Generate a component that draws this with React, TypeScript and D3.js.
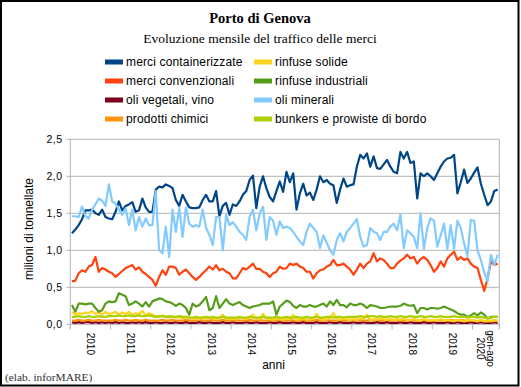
import React from "react";
import * as d3 from "d3";

const W = 521;
const H = 387;

const yearLabels = ["2010","2011","2012","2013","2014","2015","2016","2017","2018","2019"];
const lastLabelLines = ["gen-ago", "2020"];
const yTicks = [0, 0.5, 1.0, 1.5, 2.0, 2.5];

const merciContainerizzate = [
1.23,1.28,1.34,1.42,1.54,1.54,1.55,1.50,1.48,1.55,1.45,1.43,
1.42,1.52,1.66,1.54,1.60,1.62,1.65,1.52,1.54,1.70,1.58,1.52,
1.52,1.82,1.86,1.85,1.89,1.87,1.84,1.68,1.60,1.75,1.66,1.58,
1.57,1.57,1.58,1.68,1.75,1.66,1.66,1.80,1.46,1.60,1.64,1.48,
1.62,1.60,1.66,1.75,1.80,1.95,2.01,1.57,1.86,2.00,1.84,1.72,
1.66,1.80,1.93,1.79,2.06,1.92,2.04,1.55,1.77,1.90,1.74,1.78,
1.68,1.82,2.00,1.92,1.95,1.90,1.88,1.64,1.82,1.97,1.86,1.88,
1.89,2.13,2.29,2.24,2.31,2.13,2.27,2.11,2.10,2.16,2.22,2.13,
2.06,2.04,2.33,2.24,2.33,2.18,2.20,1.70,2.04,2.00,2.04,2.00,
1.95,2.04,2.13,2.20,2.24,2.25,2.29,1.77,1.92,2.09,1.91,1.97,
2.05,2.12,1.90,1.75,1.61,1.66,1.80,1.82];

const merciConvenzionali = [
0.58,0.59,0.69,0.73,0.71,0.78,0.80,0.91,0.71,0.76,0.74,0.71,
0.69,0.64,0.68,0.72,0.76,0.78,0.80,0.74,0.77,0.71,0.68,0.64,
0.60,0.52,0.64,0.73,0.67,0.78,0.78,0.76,0.67,0.71,0.74,0.69,
0.64,0.60,0.64,0.69,0.73,0.78,0.74,0.80,0.73,0.75,0.71,0.69,
0.62,0.62,0.69,0.76,0.74,0.78,0.82,0.75,0.75,0.71,0.69,0.64,
0.69,0.71,0.78,0.75,0.76,0.82,0.80,0.82,0.78,0.76,0.71,0.71,
0.62,0.69,0.73,0.74,0.78,0.80,0.87,0.80,0.80,0.82,0.78,0.74,
0.67,0.74,0.82,0.76,0.82,0.85,0.96,0.85,0.89,0.87,0.82,0.76,
0.76,0.82,0.86,0.89,0.94,0.89,0.91,0.82,0.88,0.91,0.87,0.80,
0.71,0.76,0.85,0.78,0.89,0.94,0.98,0.87,0.91,0.87,0.89,0.82,
0.78,0.76,0.60,0.45,0.62,0.85,0.80,0.82];

const oliVegetali = [
0.03,0.02,0.03,0.02,0.03,0.03,0.02,0.03,0.02,0.03,0.02,0.03,
0.02,0.03,0.02,0.03,0.02,0.02,0.03,0.02,0.03,0.02,0.03,0.02,
0.02,0.03,0.02,0.02,0.03,0.02,0.02,0.03,0.02,0.02,0.03,0.02,
0.02,0.02,0.03,0.02,0.02,0.03,0.02,0.02,0.02,0.03,0.02,0.02,
0.03,0.02,0.02,0.02,0.03,0.02,0.02,0.03,0.02,0.02,0.02,0.03,
0.02,0.02,0.03,0.02,0.02,0.02,0.03,0.02,0.02,0.03,0.02,0.02,
0.02,0.03,0.02,0.02,0.02,0.03,0.02,0.02,0.03,0.02,0.02,0.02,
0.03,0.02,0.02,0.03,0.02,0.02,0.02,0.03,0.02,0.02,0.03,0.02,
0.02,0.02,0.03,0.02,0.02,0.03,0.02,0.02,0.02,0.03,0.02,0.02,
0.03,0.02,0.02,0.02,0.03,0.02,0.02,0.03,0.02,0.02,0.02,0.03,
0.02,0.02,0.03,0.02,0.02,0.02,0.03,0.02];

const prodottiChimici = [
0.05,0.05,0.06,0.05,0.05,0.06,0.05,0.05,0.06,0.05,0.05,0.05,
0.05,0.06,0.05,0.05,0.06,0.05,0.05,0.06,0.05,0.05,0.06,0.05,
0.05,0.05,0.05,0.06,0.05,0.05,0.06,0.05,0.05,0.05,0.06,0.05,
0.05,0.05,0.06,0.05,0.05,0.05,0.06,0.05,0.05,0.06,0.05,0.05,
0.05,0.06,0.05,0.05,0.05,0.06,0.05,0.05,0.06,0.05,0.05,0.05,
0.05,0.05,0.06,0.05,0.05,0.06,0.05,0.05,0.05,0.06,0.05,0.05,
0.05,0.06,0.05,0.05,0.06,0.05,0.05,0.05,0.06,0.05,0.05,0.06,
0.05,0.05,0.06,0.05,0.05,0.06,0.05,0.06,0.05,0.05,0.06,0.05,
0.05,0.06,0.05,0.05,0.06,0.05,0.06,0.05,0.05,0.06,0.05,0.05,
0.05,0.05,0.06,0.05,0.05,0.06,0.05,0.05,0.06,0.05,0.05,0.05,
0.05,0.04,0.05,0.04,0.04,0.05,0.05,0.05];

const rinfuseSolide = [
0.17,0.13,0.15,0.14,0.16,0.15,0.18,0.14,0.16,0.13,0.17,0.14,
0.15,0.17,0.13,0.16,0.14,0.17,0.13,0.15,0.14,0.18,0.12,0.15,
0.13,0.11,0.10,0.12,0.10,0.09,0.11,0.09,0.10,0.08,0.10,0.09,
0.08,0.09,0.07,0.10,0.08,0.09,0.08,0.07,0.09,0.13,0.08,0.07,
0.08,0.07,0.09,0.08,0.07,0.10,0.13,0.08,0.07,0.14,0.08,0.07,
0.06,0.08,0.07,0.06,0.08,0.07,0.13,0.06,0.07,0.08,0.06,0.07,
0.08,0.14,0.07,0.06,0.07,0.09,0.15,0.07,0.06,0.08,0.07,0.06,
0.07,0.06,0.08,0.07,0.13,0.06,0.07,0.06,0.08,0.07,0.06,0.07,
0.06,0.07,0.06,0.08,0.05,0.06,0.07,0.06,0.05,0.07,0.06,0.05,
0.06,0.05,0.07,0.05,0.06,0.05,0.04,0.06,0.05,0.04,0.05,0.06,
0.05,0.04,0.06,0.04,0.05,0.04,0.05,0.05];

const rinfuseIndustriali = [
0.26,0.17,0.28,0.28,0.27,0.28,0.28,0.22,0.17,0.19,0.28,0.31,
0.30,0.31,0.42,0.40,0.38,0.26,0.28,0.31,0.28,0.24,0.30,0.24,
0.31,0.33,0.35,0.34,0.31,0.30,0.28,0.25,0.28,0.26,0.22,0.13,
0.28,0.24,0.26,0.31,0.37,0.19,0.22,0.38,0.22,0.28,0.34,0.28,
0.26,0.28,0.30,0.26,0.24,0.22,0.24,0.25,0.26,0.28,0.28,0.28,
0.31,0.13,0.24,0.28,0.32,0.30,0.25,0.22,0.26,0.24,0.24,0.26,
0.24,0.24,0.26,0.28,0.24,0.31,0.26,0.33,0.26,0.26,0.23,0.28,
0.26,0.26,0.28,0.26,0.22,0.26,0.25,0.24,0.22,0.22,0.23,0.24,
0.24,0.24,0.25,0.28,0.26,0.25,0.26,0.15,0.22,0.22,0.20,0.22,
0.22,0.21,0.22,0.24,0.22,0.20,0.18,0.15,0.13,0.13,0.10,0.12,
0.15,0.12,0.16,0.13,0.08,0.10,0.10,0.10];

const oliMinerali = [
1.46,1.46,1.45,1.59,1.46,1.43,1.55,1.62,1.70,1.67,1.60,1.89,
1.66,1.63,1.55,1.48,1.57,1.34,1.55,1.27,1.45,1.32,1.43,1.34,
1.34,1.80,1.00,0.96,1.32,0.91,1.55,1.25,1.58,1.18,1.58,1.36,
1.32,1.34,1.32,1.55,1.30,1.21,1.07,1.45,1.45,1.00,1.48,1.34,
1.38,1.32,1.25,1.21,1.14,1.45,1.55,1.27,1.50,1.59,1.14,1.45,
1.40,1.21,1.39,1.30,1.32,1.30,1.25,1.18,1.12,1.07,1.25,1.36,
1.30,1.25,1.03,1.20,1.10,1.00,0.94,1.14,1.23,1.12,1.25,1.30,
1.36,1.42,1.18,1.05,1.07,1.30,1.25,1.23,1.14,1.25,1.25,1.32,
1.36,1.27,1.48,1.03,1.27,1.23,1.18,1.03,1.50,1.02,1.30,1.43,
1.40,1.05,1.20,1.36,1.02,1.34,1.02,1.40,1.30,1.09,0.92,1.41,
1.40,1.00,0.87,0.70,0.58,0.94,0.80,0.94];

const bunkersProvviste = [
0.10,0.10,0.11,0.10,0.10,0.11,0.10,0.10,0.11,0.10,0.10,0.11,
0.11,0.11,0.12,0.11,0.11,0.12,0.11,0.11,0.12,0.11,0.11,0.12,
0.11,0.10,0.11,0.11,0.10,0.11,0.10,0.10,0.11,0.10,0.10,0.09,
0.09,0.10,0.09,0.09,0.10,0.09,0.10,0.09,0.09,0.10,0.09,0.09,
0.09,0.09,0.10,0.09,0.09,0.10,0.09,0.09,0.09,0.10,0.09,0.09,
0.09,0.10,0.09,0.09,0.10,0.09,0.09,0.10,0.09,0.09,0.10,0.09,
0.09,0.10,0.09,0.09,0.10,0.10,0.09,0.10,0.10,0.09,0.10,0.10,
0.10,0.10,0.11,0.10,0.10,0.11,0.11,0.10,0.11,0.10,0.10,0.11,
0.10,0.10,0.11,0.10,0.10,0.11,0.10,0.10,0.11,0.10,0.10,0.11,
0.10,0.10,0.11,0.10,0.10,0.10,0.11,0.10,0.10,0.10,0.09,0.10,
0.10,0.09,0.10,0.09,0.08,0.09,0.10,0.10];

const seriesNames = [
  "merci containerizzate", "merci convenzionali", "oli vegetali, vino", "prodotti chimici",
  "rinfuse solide", "rinfuse industriali", "oli minerali", "bunkers e prowiste di bordo",
];
const seriesColors = ["#004586", "#FF420E", "#7E0021", "#FF950E", "#FFD320", "#579D1C", "#83CAFF", "#AECF00"];
const seriesData = [
  merciContainerizzate, merciConvenzionali, oliVegetali, prodottiChimici,
  rinfuseSolide, rinfuseIndustriali, oliMinerali, bunkersProvviste,
];

const plotLeft = 70.3;
const plotRight = 499.3;
const plotTop = 139.3;
const plotBottom = 324.3;
const nMonths = merciContainerizzate.length;

export default function App() {
  const x = d3.scaleLinear().domain([0, nMonths]).range([plotLeft, plotRight]);
  const y = d3.scaleLinear().domain([0, 2.5]).range([plotBottom, plotTop]);
  const line = d3.line<number>().x((_, i) => x(i + 0.5)).y((d) => y(d));
  const fmt = (v: number) => d3.format(".1f")(v).replace(".", ",");
  const boundaries = d3.range(0, 121, 12).concat([nMonths]);
  const sans = "'Liberation Sans', Arial, sans-serif";
  const serif = "'Liberation Serif', 'Times New Roman', serif";
  const grid = "#b3b3b3";

  const legendCol = (k: number) => (k < 4 ? 0 : 1);
  const legendRow = (k: number) => k % 4;

  return (
    <svg width={W} height={H} style={{ position: "absolute", left: 0, top: 0, background: "#fff" }}>
      <rect x={0} y={0} width={W} height={H} fill="#fff" />
      <rect x={1} y={1} width={517.5} height={384.5} fill="none" stroke="#000" strokeWidth={2} />
      <text x={260} y={23} textAnchor="middle" fontFamily={serif} fontWeight="bold" fontSize={14.5}>Porto di Genova</text>
      <text x={260} y={43} textAnchor="middle" fontFamily={serif} fontSize={13.5}>Evoluzione mensile del traffico delle merci</text>

      {seriesNames.map((name, k) => {
        const lx = legendCol(k) === 0 ? 105 : 254;
        const ly = 62 + legendRow(k) * 19;
        return (
          <g key={name}>
            <rect x={lx} y={ly - 2.5} width={18} height={5} fill={seriesColors[k]} />
            <text x={lx + 21} y={ly + 4} fontFamily={sans} fontSize={12} letterSpacing={0.15}>{name}</text>
          </g>
        );
      })}

      {yTicks.map((t) => (
        <g key={t}>
          <line x1={plotLeft - 4} x2={plotRight} y1={y(t)} y2={y(t)} stroke={grid} strokeWidth={1} />
          <text x={62.5} y={y(t) + 3.6} textAnchor="end" fontFamily={sans} fontSize={10.5} letterSpacing={0.5}>{fmt(t)}</text>
        </g>
      ))}
      <line x1={plotLeft} x2={plotLeft} y1={plotTop} y2={plotBottom + 5} stroke={grid} />
      <line x1={plotRight} x2={plotRight} y1={plotTop} y2={plotBottom + 5} stroke={grid} />
      {boundaries.map((b) => (
        <line key={b} x1={x(b)} x2={x(b)} y1={plotBottom} y2={plotBottom + 5} stroke={grid} />
      ))}

      {seriesData.map((s, k) => (
        <path key={k} d={line(s) || ""} fill="none" stroke={seriesColors[k]} strokeWidth={2.2} strokeLinejoin="round" />
      ))}

      {yearLabels.map((lab, k) => (
        <text key={lab} transform={`translate(${x(k * 12 + 6)},332.7) rotate(90)`} dy="0.35em" fontFamily={sans} fontSize={10}>{lab}</text>
      ))}
      {lastLabelLines.map((lab, j) => (
        <text key={lab} transform={`translate(${x(124) + 4.5 - j * 9.5},348.5) rotate(90)`} dy="0.35em" textAnchor="middle" fontFamily={sans} fontSize={10}>{lab}</text>
      ))}

      <text transform="translate(33,229) rotate(-90)" textAnchor="middle" fontFamily={sans} fontSize={12}>milioni di tonnellate</text>
      <text x={273.5} y={369} textAnchor="middle" fontFamily={sans} fontSize={12}>anni</text>
      <text x={5} y={381} fontFamily={serif} fontSize={11.4} fill="#333">(elab. inforMARE)</text>
    </svg>
  );
}
